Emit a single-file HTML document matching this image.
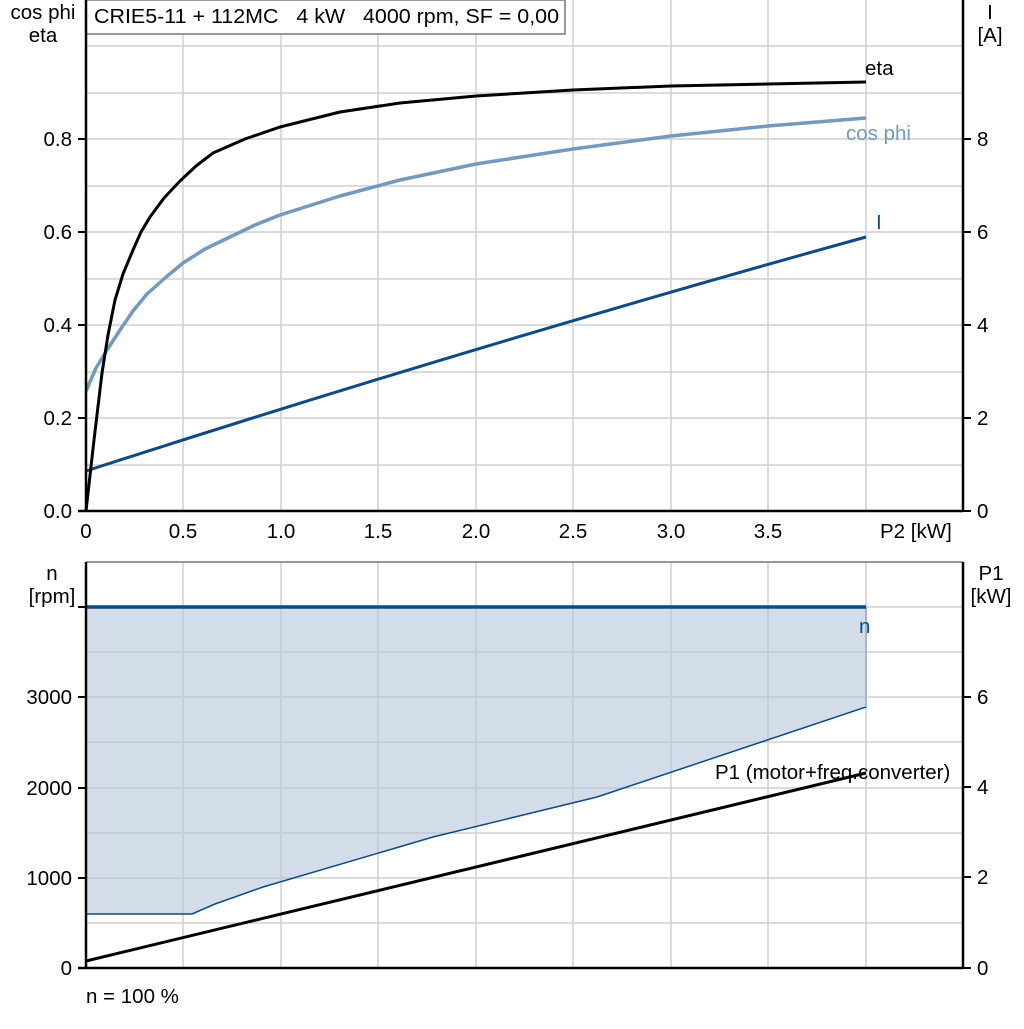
<!DOCTYPE html>
<html><head><meta charset="utf-8"><style>
body{margin:0;background:#fff}
text{font-family:"Liberation Sans",sans-serif;font-size:20.5px;fill:#000}
</style></head><body>
<svg width="1024" height="1024" xmlns="http://www.w3.org/2000/svg">
<rect width="1024" height="1024" fill="#fff"/>
<g stroke="#d0d0d0" stroke-width="1.5">
<line x1="183" y1="0" x2="183" y2="511"/><line x1="281" y1="0" x2="281" y2="511"/><line x1="378" y1="0" x2="378" y2="511"/><line x1="476" y1="0" x2="476" y2="511"/><line x1="573" y1="0" x2="573" y2="511"/><line x1="671" y1="0" x2="671" y2="511"/><line x1="768" y1="0" x2="768" y2="511"/><line x1="866" y1="0" x2="866" y2="511"/>
<line x1="86" y1="46" x2="963" y2="46"/><line x1="86" y1="93" x2="963" y2="93"/><line x1="86" y1="139" x2="963" y2="139"/><line x1="86" y1="186" x2="963" y2="186"/><line x1="86" y1="232" x2="963" y2="232"/><line x1="86" y1="279" x2="963" y2="279"/><line x1="86" y1="325" x2="963" y2="325"/><line x1="86" y1="372" x2="963" y2="372"/><line x1="86" y1="418" x2="963" y2="418"/><line x1="86" y1="465" x2="963" y2="465"/>
</g>
<path d="M86,471 Q476,345 866,237" fill="none" stroke="#0e4a84" stroke-width="3"/>
<path d="M86,391 L96,368 L107,350 L120,330 L133,311 L147,294 L165,278 L183,263 L205,249 L230,237 L255,225 L280,215 L340,196 L400,180 L476,164 L573,149 L671,136 L768,126 L866,118" fill="none" stroke="#7399bd" stroke-width="3.5" stroke-linejoin="round"/>
<path d="M86,511 L94,440 L102,373 L108,335 L115,300 L123,274 L133,250 L141,232 L150,217 L164,198 L180,181 L196,166 L213,153 L245,139 L280,127 L340,112 L400,103 L476,96 L573,90 L671,86 L768,84 L866,82" fill="none" stroke="#000" stroke-width="3" stroke-linejoin="round"/>
<text x="865" y="75">eta</text>
<text x="846" y="140" style="fill:#7399bd">cos phi</text>
<text x="876" y="229" style="fill:#0e4a84">I</text>
<rect x="86" y="0" width="479" height="34" fill="#fff" stroke="#777" stroke-width="1.5"/>
<text x="94" y="23" xml:space="preserve" textLength="465" lengthAdjust="spacingAndGlyphs">CRIE5-11 + 112MC   4 kW   4000 rpm, SF = 0,00</text>
<g stroke="#000" stroke-width="2.5" fill="none">
<line x1="86" y1="0" x2="86" y2="512"/><line x1="963" y1="0" x2="963" y2="512"/><line x1="78" y1="511" x2="963" y2="511"/>
</g>
<g stroke="#000" stroke-width="2"><line x1="78" y1="139" x2="86" y2="139"/><line x1="78" y1="232" x2="86" y2="232"/><line x1="78" y1="325" x2="86" y2="325"/><line x1="78" y1="418" x2="86" y2="418"/>
<line x1="963" y1="139" x2="971" y2="139"/><line x1="963" y1="232" x2="971" y2="232"/><line x1="963" y1="325" x2="971" y2="325"/><line x1="963" y1="418" x2="971" y2="418"/><line x1="963" y1="511" x2="971" y2="511"/></g>
<g text-anchor="end"><text x="72" y="146">0.8</text><text x="72" y="239">0.6</text><text x="72" y="332">0.4</text><text x="72" y="425">0.2</text><text x="72" y="518">0.0</text></g>
<text x="977" y="146">8</text><text x="977" y="239">6</text><text x="977" y="332">4</text><text x="977" y="425">2</text><text x="977" y="518">0</text>
<g text-anchor="middle"><text x="86" y="538">0</text><text x="183" y="538">0.5</text><text x="281" y="538">1.0</text><text x="378" y="538">1.5</text><text x="476" y="538">2.0</text><text x="573" y="538">2.5</text><text x="671" y="538">3.0</text><text x="768" y="538">3.5</text>
<text x="43" y="19">cos phi</text><text x="43" y="42">eta</text><text x="990" y="19">I</text><text x="990" y="42">[A]</text>
<text x="52" y="580">n</text><text x="52" y="603">[rpm]</text><text x="991" y="580">P1</text><text x="991" y="603">[kW]</text></g>
<text x="880" y="538">P2 [kW]</text>
<g stroke="#d0d0d0" stroke-width="1.5">
<line x1="183" y1="562" x2="183" y2="968"/><line x1="281" y1="562" x2="281" y2="968"/><line x1="378" y1="562" x2="378" y2="968"/><line x1="476" y1="562" x2="476" y2="968"/><line x1="573" y1="562" x2="573" y2="968"/><line x1="671" y1="562" x2="671" y2="968"/><line x1="768" y1="562" x2="768" y2="968"/><line x1="866" y1="562" x2="866" y2="968"/>
<line x1="86" y1="607" x2="963" y2="607"/><line x1="86" y1="652" x2="963" y2="652"/><line x1="86" y1="697" x2="963" y2="697"/><line x1="86" y1="742" x2="963" y2="742"/><line x1="86" y1="788" x2="963" y2="788"/><line x1="86" y1="833" x2="963" y2="833"/><line x1="86" y1="878" x2="963" y2="878"/><line x1="86" y1="923" x2="963" y2="923"/>
</g>
<path d="M86,607 L866,607 L866,707 L597,797 L433,837 L263,887 L215,904 L192,914 L86,914 Z" fill="#b4c7da" fill-opacity="0.6"/>
<path d="M866,607 L866,707 L597,797 L433,837 L263,887 L215,904 L192,914 L86,914" fill="none" stroke="#0e4a84" stroke-width="1.5"/>
<line x1="866" y1="607" x2="866" y2="707" stroke="#9fb6cc" stroke-width="2"/>
<line x1="86" y1="607" x2="866" y2="607" stroke="#0e4a84" stroke-width="3.5"/>
<line x1="86" y1="961" x2="866" y2="773" stroke="#000" stroke-width="3"/>
<text x="859" y="633" style="fill:#0e4a84">n</text>
<text x="715" y="779">P1 (motor+freq.converter)</text>
<line x1="86" y1="562" x2="963" y2="562" stroke="#777" stroke-width="1.5"/>
<g stroke="#000" stroke-width="2.5" fill="none">
<line x1="86" y1="562" x2="86" y2="969"/><line x1="963" y1="562" x2="963" y2="969"/><line x1="78" y1="968" x2="963" y2="968"/>
</g>
<g stroke="#000" stroke-width="2"><line x1="78" y1="607" x2="86" y2="607"/><line x1="78" y1="697" x2="86" y2="697"/><line x1="78" y1="788" x2="86" y2="788"/><line x1="78" y1="878" x2="86" y2="878"/>
<line x1="963" y1="697" x2="971" y2="697"/><line x1="963" y1="787" x2="971" y2="787"/><line x1="963" y1="877" x2="971" y2="877"/><line x1="963" y1="968" x2="971" y2="968"/></g>
<g text-anchor="end"><text x="72" y="704">3000</text><text x="72" y="795">2000</text><text x="72" y="885">1000</text><text x="72" y="975">0</text></g>
<text x="977" y="704">6</text><text x="977" y="794">4</text><text x="977" y="884">2</text><text x="977" y="975">0</text>
<text x="86" y="1003">n = 100 %</text>
</svg>
</body></html>
